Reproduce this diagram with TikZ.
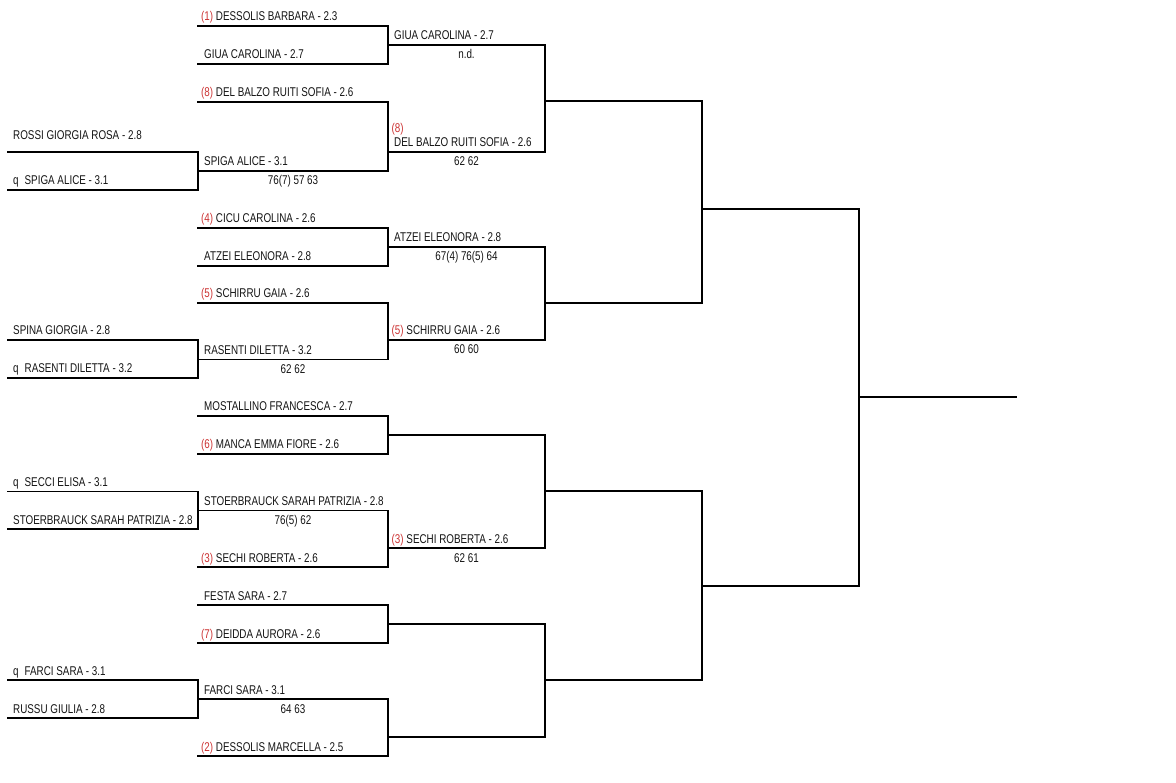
\documentclass[tikz,border=0pt]{standalone}
\usepackage{fontspec}
\setmainfont[FakeStretch=0.775]{Liberation Sans}
\definecolor{seedred}{HTML}{CC3333}
\definecolor{ink}{HTML}{141414}
\newcommand\bslot[4]{\coordinate (#1-a) at (#2,#4); \coordinate (#1-b) at (#3,#4); \draw[bline] (#1-a) -- (#1-b);}
\newcommand\sd[1]{\textcolor{seedred}{#1}}
\begin{document}
\begin{tikzpicture}[x=1pt,y=-1pt,
  bline/.style={line width=1.2pt,line cap=rect,draw=black},
  lab/.style={anchor=base west,inner sep=0pt,font=\fontsize{12.7}{14}\selectfont,text=ink},
  score/.style={anchor=base,inner sep=0pt,font=\fontsize{12.7}{14}\selectfont,text=ink}]
\useasboundingbox (0,0) rectangle (1176,783);
% column 0 (qualifying)
\bslot{q1}{8}{198}{152}
\bslot{q2}{8}{198}{190}
\bslot{q3}{8}{198}{340}
\bslot{q4}{8}{198}{378}
\bslot{q5}{8}{198}{491.7}
\bslot{q6}{8}{198}{529}
\bslot{q7}{8}{198}{680}
\bslot{q8}{8}{198}{718}
% column 1
\bslot{a1}{198}{388}{26}
\bslot{a2}{198}{388}{64}
\bslot{a3}{198}{388}{102}
\bslot{a4}{198}{388}{171}
\bslot{a5}{198}{388}{228}
\bslot{a6}{198}{388}{266}
\bslot{a7}{198}{388}{303}
\bslot{a8}{198}{388}{359.5}
\bslot{a9}{198}{388}{416}
\bslot{a10}{198}{388}{454}
\bslot{a11}{198}{388}{510.3}
\bslot{a12}{198}{388}{567}
\bslot{a13}{198}{388}{605}
\bslot{a14}{198}{388}{643}
\bslot{a15}{198}{388}{699}
\bslot{a16}{198}{388}{756}
% column 2
\bslot{b1}{388}{545}{45}
\bslot{b2}{388}{545}{152}
\bslot{b3}{388}{545}{247}
\bslot{b4}{388}{545}{340}
\bslot{b5}{388}{545}{435}
\bslot{b6}{388}{545}{548}
\bslot{b7}{388}{545}{624}
\bslot{b8}{388}{545}{737}
% column 3
\bslot{c1}{545}{702}{101}
\bslot{c2}{545}{702}{303}
\bslot{c3}{545}{702}{491}
\bslot{c4}{545}{702}{680}
% column 4
\bslot{d1}{702}{859}{209}
\bslot{d2}{702}{859}{586}
% final
\bslot{e1}{859}{1016}{397}
% verticals
\draw[bline] (q1-b) -- (q2-b);
\draw[bline] (q3-b) -- (q4-b);
\draw[bline] (q5-b) -- (q6-b);
\draw[bline] (q7-b) -- (q8-b);
\draw[bline] (a1-b) -- (a2-b);
\draw[bline] (a3-b) -- (a4-b);
\draw[bline] (a5-b) -- (a6-b);
\draw[bline] (a7-b) -- (a8-b);
\draw[bline] (a9-b) -- (a10-b);
\draw[bline] (a11-b) -- (a12-b);
\draw[bline] (a13-b) -- (a14-b);
\draw[bline] (a15-b) -- (a16-b);
\draw[bline] (b1-b) -- (b2-b);
\draw[bline] (b3-b) -- (b4-b);
\draw[bline] (b5-b) -- (b6-b);
\draw[bline] (b7-b) -- (b8-b);
\draw[bline] (c1-b) -- (c2-b);
\draw[bline] (c3-b) -- (c4-b);
\draw[bline] (d1-b) -- (d2-b);
% column 0 labels
\node[lab] (tq1) at (13,140) {ROSSI GIORGIA ROSA - 2.8};
\node[lab] (tq2) at (13,185) {q\hspace{6pt}SPIGA ALICE - 3.1};
\node[lab] (tq3) at (13,335) {SPINA GIORGIA - 2.8};
\node[lab] (tq4) at (13,373) {q\hspace{6pt}RASENTI DILETTA - 3.2};
\node[lab] (tq5) at (13,487) {q\hspace{6pt}SECCI ELISA - 3.1};
\node[lab] (tq6) at (13,524) {STOERBRAUCK SARAH PATRIZIA - 2.8};
\node[lab] (tq7) at (13,675) {q\hspace{6pt}FARCI SARA - 3.1};
\node[lab] (tq8) at (13,713) {RUSSU GIULIA - 2.8};
% column 1 labels
\node[lab] (ta1) at (201,21) {\sd{(1)} DESSOLIS BARBARA - 2.3};
\node[lab] (ta2) at (204,59) {GIUA CAROLINA - 2.7};
\node[lab] (ta3) at (201,97) {\sd{(8)} DEL BALZO RUITI SOFIA - 2.6};
\node[lab] (ta4) at (204,166) {SPIGA ALICE - 3.1};
\node[score] (sa4) at (293,185) {76(7) 57 63};
\node[lab] (ta5) at (201,223) {\sd{(4)} CICU CAROLINA - 2.6};
\node[lab] (ta6) at (204,261) {ATZEI ELEONORA - 2.8};
\node[lab] (ta7) at (201,298) {\sd{(5)} SCHIRRU GAIA - 2.6};
\node[lab] (ta8) at (204,354.5) {RASENTI DILETTA - 3.2};
\node[score] (sa8) at (293,373.5) {62 62};
\node[lab] (ta9) at (204,411) {MOSTALLINO FRANCESCA - 2.7};
\node[lab] (ta10) at (201,449) {\sd{(6)} MANCA EMMA FIORE - 2.6};
\node[lab] (ta11) at (204,505.3) {STOERBRAUCK SARAH PATRIZIA - 2.8};
\node[score] (sa11) at (293,524.3) {76(5) 62};
\node[lab] (ta12) at (201,562) {\sd{(3)} SECHI ROBERTA - 2.6};
\node[lab] (ta13) at (204,600) {FESTA SARA - 2.7};
\node[lab] (ta14) at (201,638) {\sd{(7)} DEIDDA AURORA - 2.6};
\node[lab] (ta15) at (204,694) {FARCI SARA - 3.1};
\node[score] (sa15) at (293,713) {64 63};
\node[lab] (ta16) at (201,751) {\sd{(2)} DESSOLIS MARCELLA - 2.5};
% column 2 labels
\node[lab] (tb1) at (394,40) {GIUA CAROLINA - 2.7};
\node[score] (sb1) at (466.5,58.5) {n.d.};
\node[lab] (tb2s) at (391.5,133) {\sd{(8)}};
\node[lab] (tb2) at (394,147) {DEL BALZO RUITI SOFIA - 2.6};
\node[score] (sb2) at (466.5,166) {62 62};
\node[lab] (tb3) at (394,242) {ATZEI ELEONORA - 2.8};
\node[score] (sb3) at (466.5,261) {67(4) 76(5) 64};
\node[lab] (tb4) at (391.5,335) {\sd{(5)} SCHIRRU GAIA - 2.6};
\node[score] (sb4) at (466.5,354) {60 60};
\node[lab] (tb6) at (391.5,543) {\sd{(3)} SECHI ROBERTA - 2.6};
\node[score] (sb6) at (466.5,562) {62 61};
\end{tikzpicture}
\end{document}
